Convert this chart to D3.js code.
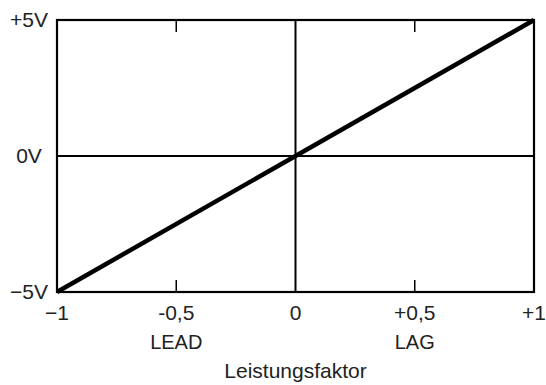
<!DOCTYPE html>
<html><head><meta charset="utf-8">
<script src="https://cdn.jsdelivr.net/npm/d3@7"></script>
<style>body{margin:0;background:#fff}text{font-family:"Liberation Sans",Arial,sans-serif;fill:#222}</style>
</head><body><svg id="c" width="546" height="385"></svg>
<script>
const xTicks = [-1, -0.5, 0, 0.5, 1];
const xTickLabels = ["\u22121", "-0,5", "0", "+0,5", "+1"];
const yTicks = [-5, 0, 5];
const yTickLabels = ["\u22125V", "0V", "+5V"];
const powerFactor = [-1, 0, 1];
const voltage = [-5, 0, 5];
const subLabels = [{x: -0.5, t: "LEAD"}, {x: 0.5, t: "LAG"}];
const xTitle = "Leistungsfaktor";

const svg = d3.select("#c");
const L = 57, R = 534, T = 20, B = 292;
const x = d3.scaleLinear().domain([-1, 1]).range([L, R]);
const y = d3.scaleLinear().domain([-5, 5]).range([B, T]);

// frame
svg.append("rect").attr("x", L).attr("y", T).attr("width", R - L).attr("height", B - T)
  .attr("fill", "none").attr("stroke", "#000").attr("stroke-width", 2.2);
// center lines
svg.append("line").attr("x1", x(0)).attr("x2", x(0)).attr("y1", T).attr("y2", B).attr("stroke", "#000").attr("stroke-width", 2);
svg.append("line").attr("x1", L).attr("x2", R).attr("y1", y(0)).attr("y2", y(0)).attr("stroke", "#000").attr("stroke-width", 2);
// minor ticks top & bottom at ±0.5
[-0.5, 0.5].forEach(v => {
  svg.append("line").attr("x1", x(v)).attr("x2", x(v)).attr("y1", B).attr("y2", B - 12).attr("stroke", "#000").attr("stroke-width", 1.5);
  svg.append("line").attr("x1", x(v)).attr("x2", x(v)).attr("y1", T).attr("y2", T + 12).attr("stroke", "#000").attr("stroke-width", 1.5);
});
// data line
svg.append("path").datum(powerFactor.map((p, i) => [p, voltage[i]]))
  .attr("d", d3.line().x(d => x(d[0])).y(d => y(d[1])))
  .attr("fill", "none").attr("stroke", "#000").attr("stroke-width", 4.5);

// x tick labels
svg.selectAll(".xt").data(xTicks).enter().append("text")
  .attr("x", d => x(d)).attr("y", B + 28).attr("text-anchor", "middle")
  .attr("font-size", 21).text((d, i) => xTickLabels[i]);
svg.selectAll(".sl").data(subLabels).enter().append("text")
  .attr("x", d => x(d.x)).attr("y", B + 57).attr("text-anchor", "middle")
  .attr("font-size", 20).text(d => d.t);
svg.append("text").attr("x", x(0)).attr("y", B + 86).attr("text-anchor", "middle")
  .attr("font-size", 21).text(xTitle);
// y tick labels
svg.selectAll(".yt").data(yTicks).enter().append("text")
  .attr("x", 29).attr("y", d => y(d) + 7).attr("text-anchor", "middle")
  .attr("font-size", 21).text((d, i) => yTickLabels[i]);
</script></body></html>
